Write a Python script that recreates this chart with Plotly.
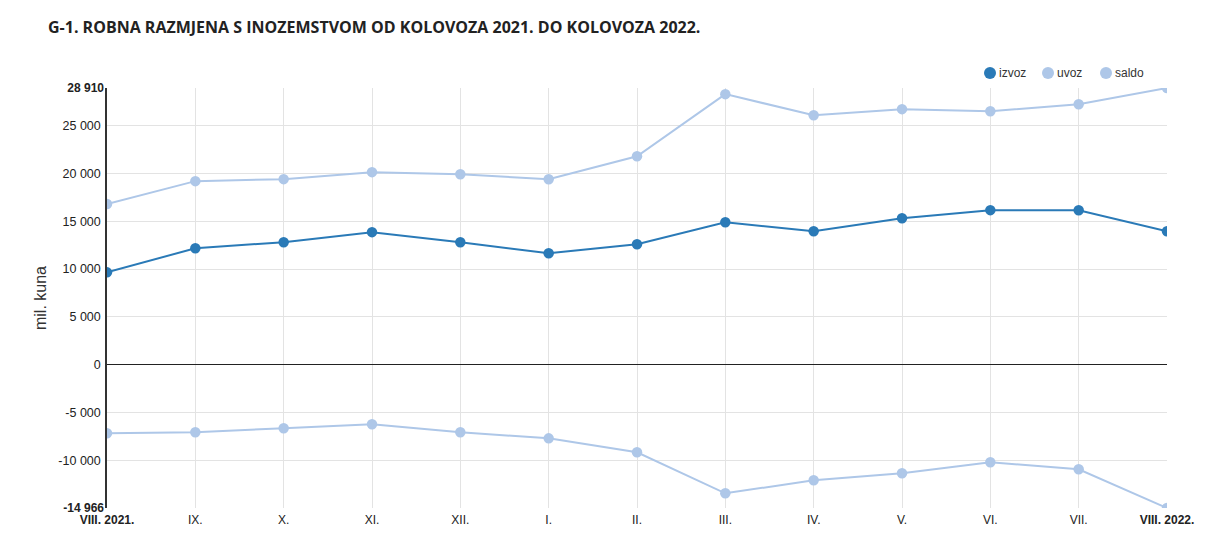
import plotly.graph_objects as go

months = ["VIII. 2021.", "IX.", "X.", "XI.", "XII.", "I.", "II.", "III.", "IV.", "V.", "VI.", "VII.", "VIII. 2022."]
month_labels = ["<b>VIII. 2021.</b>", "IX.", "X.", "XI.", "XII.", "I.", "II.", "III.", "IV.", "V.", "VI.", "VII.", "<b>VIII. 2022.</b>"]
izvoz = [9650, 12170, 12800, 13850, 12800, 11650, 12590, 14890, 13950, 15310, 16150, 16140, 13944]
uvoz = [16800, 19180, 19390, 20120, 19900, 19380, 21780, 28270, 26070, 26700, 26490, 27220, 28910]
saldo = [-7150, -7050, -6640, -6220, -7060, -7690, -9150, -13430, -12070, -11340, -10190, -10920, -14966]
series_names = ["izvoz", "uvoz", "saldo"]

y_min, y_max = -14966, 28910
inner_ticks = [-10000, -5000, 0, 5000, 10000, 15000, 20000, 25000]
edge_ticks = [y_min, y_max]

def fmt(v):
    s = f"{abs(v):,}".replace(",", " ")
    return ("-" if v < 0 else "") + s

c_izvoz = "#2a7ab7"
c_light = "#aec7e8"
colors = [c_izvoz, c_light, c_light]

W, H = 1213, 549
ML, MR, MT, MB = 107, 46, 88, 41
PW, PH = W - ML - MR, H - MT - MB

x = list(range(len(months)))
fig = go.Figure()
for name, vals, col in zip(series_names, [izvoz, uvoz, saldo], colors):
    fig.add_trace(go.Scatter(x=x, y=vals, mode="lines+markers", name=name,
                             line=dict(color=col, width=2), marker=dict(color=col, size=10.5),
                             showlegend=False, hoverinfo="y+name"))

fig.add_trace(go.Scatter(x=[None], y=[None], yaxis="y2", showlegend=False))

# manual legend (circle + label)
leg_px = [990, 1048, 1106]
leg_y = (H - MB - 73) / PH
shapes, annotations = [], []
for px, name, col in zip(leg_px, series_names, colors):
    xp = (px - ML) / PW
    shapes.append(dict(type="circle", xref="paper", yref="paper", xsizemode="pixel", ysizemode="pixel",
                       xanchor=xp, yanchor=leg_y, x0=-6, x1=6, y0=-6, y1=6,
                       fillcolor=col, line=dict(width=0)))
    annotations.append(dict(text=name, xref="paper", yref="paper", x=xp + 7 / PW, y=leg_y,
                            xanchor="left", yanchor="middle", showarrow=False,
                            font=dict(size=12, color="#333")))

fig.update_layout(
    width=W, height=H,
    margin=dict(l=ML, r=MR, t=MT, b=MB),
    paper_bgcolor="white", plot_bgcolor="white",
    font=dict(family="Liberation Sans, Arial, sans-serif", size=12, color="#222"),
    title=dict(text="G-1. ROBNA RAZMJENA S INOZEMSTVOM OD KOLOVOZA 2021. DO KOLOVOZA 2022.",
               x=48/W, xanchor="left", y=1-27/H, yanchor="middle",
               font=dict(family="Open Sans, sans-serif", size=16, color="#222", weight="bold")),
    xaxis=dict(range=[0, 12], tickvals=x, ticktext=month_labels, showgrid=True,
               gridcolor="#e3e3e3", gridwidth=1, zeroline=False, showline=False,
               ticks="", ticklabelstandoff=3, tickfont=dict(size=12, color="#222")),
    yaxis=dict(range=[y_min, y_max], tickvals=inner_ticks, ticktext=[fmt(v) for v in inner_ticks],
               showgrid=True, gridcolor="#e3e3e3", gridwidth=1,
               zeroline=True, zerolinecolor="#222", zerolinewidth=1,
               showline=True, linecolor="#333", linewidth=1.5, ticks="", ticklabelstandoff=2,
               title=dict(text="mil. kuna", font=dict(size=16, color="#333"), standoff=8),
               tickfont=dict(size=12.5, color="#222")),
    yaxis2=dict(range=[y_min, y_max], overlaying="y", side="left", tickvals=edge_ticks,
                ticktext=["<b>" + fmt(v) + "</b>" for v in edge_ticks], showgrid=False,
                zeroline=False, showline=False, ticks="", ticklabelstandoff=2,
                tickfont=dict(size=12, color="#222")),
    shapes=shapes, annotations=annotations,
    showlegend=False,
)

fig.write_html("out.html")
